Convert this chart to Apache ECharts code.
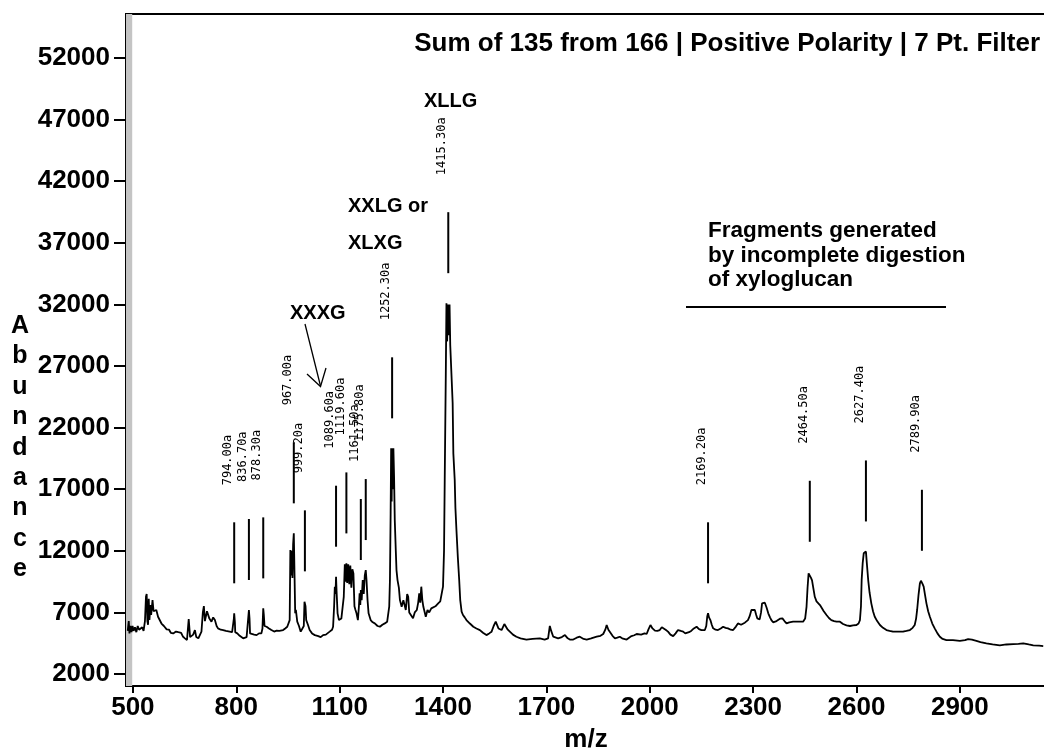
<!DOCTYPE html>
<html>
<head>
<meta charset="utf-8">
<title>MALDI spectrum of xyloglucan oligosaccharides</title>
<script src="https://cdn.jsdelivr.net/npm/echarts@6/dist/echarts.min.js"></script>
<style>
  html, body { margin: 0; padding: 0; background: #fff; }
  #chart { width: 1044px; height: 755px; }
</style>
</head>
<body>
<div id="chart"></div>
<script>
// Summed spectrum trace, [m/z, abundance], split into three ranges
const spectrumLow = [
  [485,5500],[488,6300],[490,5300],[493,5900],[496,5400],[499,5900],[502,5500],[506,5800],
  [510,5400],[514,5900],[518,5600],[522,5500],[527,5800],[531,5500],[535,6300],[538,8300],
  [540,8500],[542,6300],[544,6000],[546,8100],[548,6400],[551,7600],[553,6800],[557,8000],
  [560,7100],[564,7000],[568,7200],[573,6650],[578,6700],[583,6100],[590,5900],[598,5630],
  [605,5600],[610,5350],[617,5300],[625,5450],[632,5400],[640,5350],[645,5050],[651,4900],
  [657,4760],[660,4800],[662,6460],[664,6300],[666,5000],[670,5030],[675,5200],[680,5570],
  [684,5000],[690,4900],[695,5200],[699,5440],[703,7000],[706,7520],[709,6300],[712,6380],
  [715,7100],[718,7200],[722,6500],[728,6250],[733,6600],[738,6380],[743,5900],[747,5710],
  [755,5600],[762,5570],[770,5500],[781,5440],[788,5400],[792,5400],[793,6500],[794,6930],
  [796,6200],[797,5400],[803,5300],[810,5100],[820,4900],[830,5000],[835,5100],[836.7,7200],
  [838.5,6500],[840,5300],[844,5300],[852,5200],[859,5160],[866,5300],[873,5300],[876,5700],
  [878.3,7330],[880,6800],[882,5900],[888,5840],[895,5700],[902,5570],[910,5450],[917,5520],
  [925,5500],[936,5570],[942,5700],[948,5840],[952,6000],[955,6380],[957,12070],[959,10000],
  [961,12000],[963,9800],[965,12500],[967,13420],[969,10200],[971,6930],[973,7200],[977,6250],
  [982,5900],[987,5440],[992,5500],[996,5900],[998,7870],[999.2,7900],[1001,7500],[1003,6380],
  [1008,6000],[1013,5570],[1020,5300],[1028,5160],[1038,5080],[1045,5000],[1052,5160],[1060,5200],
  [1071,5440],[1078,5600],[1081,5840],[1084,7500],[1086,9090],[1088,8500],[1089.6,9900],[1091,8800],
  [1094,6930],[1098,6380],[1101,6380],[1105,6500],[1108,6380],[1112,8270],[1115,10900],[1117,9500],
  [1119.6,10980],[1122,9400],[1125,10900],[1128,9300],[1131,10800],[1134,9000],[1137,10500],[1140,10170],
  [1143,7500],[1146,7200],[1149,6930],[1153,6380],[1156,7500],[1158,8550],[1160,7600],[1161.5,8820],
  [1164,8000],[1167,9630],[1170,8500],[1173,10000],[1175.8,10440],[1178,9630],[1181,8000],[1184,6930],
  [1190,6380],[1196,6200],[1202,6110],[1210,5900],[1217,5840],[1224,6000],[1231,6110],[1238,6250]
];

const spectrumMid = [
  [1241,6380],[1244,7500],[1246,9630],[1248,15000],[1249.5,20320],[1251,16000],[1252.3,20320],[1254,17000],
  [1256,20320],[1258,18000],[1260,14500],[1263,12000],[1265,10440],[1268,9630],[1272,9000],[1275,8000],
  [1280,7460],[1285,8000],[1292,7200],[1296,8500],[1299,8270],[1302,7000],[1306,6930],[1313,6520],
  [1318,7000],[1324,7200],[1328,7800],[1331,8550],[1334,7800],[1337,9090],[1340,8000],[1343,7460],
  [1350,6650],[1355,7200],[1360,7000],[1366,7330],[1371,7330],[1378,7500],[1386,7740],[1392,7900],
  [1396,8000],[1400,9090],[1403,12000],[1405,17750],[1408,26000],[1410,32090],[1412,29000],[1414,32000],
  [1415.3,32100],[1417,29500],[1419,32000],[1421,28700],[1425,28700],[1428,24000],[1430,19910],[1434,17750],
  [1436,15500],[1439,13690],[1443,11500],[1447,9630],[1450,8000],[1454,7060],[1458,6790],[1463,6600],
  [1468,6380],[1478,6100],[1488,5840],[1497,5700],[1507,5570],[1516,5350],[1526,5160],[1534,5300],
  [1541,5440],[1547,5900],[1553,6250],[1557,6100],[1561,5700],[1565,5840],[1570,5570],[1575,5570],
  [1578,6060],[1583,5900],[1588,5600],[1594,5440],[1603,5200],[1613,5030],[1625,4900],[1642,4800],
  [1660,4850],[1681,4900],[1695,4800],[1705,4900],[1710,5900],[1714,5500],[1720,5030],[1734,4900],
  [1745,5000],[1754,5160],[1762,4900],[1768,4800],[1778,4800],[1788,4950],[1797,5030],[1808,4850],
  [1817,4800],[1830,4900],[1846,5030],[1857,5100],[1865,5250],[1871,5600],[1875,5980],[1880,5600],
  [1884,5440],[1892,5100],[1899,4900],[1906,4950],[1913,5030],[1920,4900],[1933,4800],[1940,4950],
  [1947,5080],[1955,5150],[1962,5250],[1975,5200],[1985,5300],[1991,5250],[1996,5600],[2002,5980],
  [2008,5700],[2015,5520],[2022,5500],[2029,5570],[2035,5800],[2039,5840],[2046,5600],[2053,5440],
  [2060,5200],[2068,5080],[2075,5300],[2082,5570],[2090,5500],[2097,5440],[2103,5300],[2107,5250],
  [2114,5400],[2121,5520],[2128,5700],[2136,5840],[2143,5650],[2150,5570],[2160,5570]
];

const spectrumHigh = [
  [2164,5900],[2167,6700],[2169.2,6930],[2172,6600],[2176,6380],[2180,6000],[2184,5710],[2191,5600],
  [2198,5570],[2206,5700],[2213,5840],[2220,5750],[2227,5710],[2235,5600],[2242,5570],[2250,5850],
  [2256,6110],[2265,6000],[2276,6170],[2281,6200],[2285,6380],[2290,6700],[2295,7200],[2300,7150],
  [2305,7200],[2309,6800],[2312,6520],[2319,6440],[2323,7000],[2326,7740],[2330,7800],[2334,7790],
  [2339,7400],[2344,6930],[2349,6600],[2353,6380],[2358,6200],[2363,6110],[2368,6300],[2373,6440],
  [2379,6500],[2385,6520],[2391,6300],[2397,6110],[2405,6200],[2416,6250],[2430,6250],[2445,6250],
  [2451,6500],[2455,7460],[2458,9000],[2461,10170],[2464.5,10300],[2468,9800],[2471,9600],[2474,9090],
  [2479,8270],[2484,7900],[2489,7740],[2494,7600],[2498,7460],[2505,7100],[2513,6790],[2520,6550],
  [2527,6380],[2535,6300],[2542,6250],[2547,6380],[2552,6250],[2561,6060],[2571,5950],[2581,5900],
  [2590,5950],[2600,5980],[2606,6100],[2610,6380],[2613,7500],[2615,9630],[2618,11000],[2621,11800],
  [2624,11900],[2627.4,11950],[2630,11000],[2634,9630],[2638,8600],[2643,7740],[2648,7100],[2653,6650],
  [2660,6300],[2668,5980],[2677,5750],[2687,5570],[2696,5500],[2706,5440],[2720,5440],[2735,5440],
  [2745,5500],[2755,5570],[2763,5750],[2769,5980],[2773,6500],[2776,7200],[2780,8400],[2784,9360],
  [2787,9570],[2789.9,9570],[2792,9300],[2795,9090],[2799,8400],[2803,7740],[2808,7100],[2813,6650],
  [2820,6100],[2827,5710],[2835,5300],[2842,5030],[2850,4850],[2861,4760],[2880,4750],[2900,4700],
  [2915,4750],[2924,4840],[2935,4800],[2948,4700],[2960,4600],[2977,4490],[2995,4400],[3016,4330],
  [3035,4400],[3055,4430],[3070,4450],[3084,4490],[3100,4400],[3113,4330],[3130,4300],[3142,4270]
];

// Labelled peaks: centroid m/z, apex abundance, annotation text
const peakMz = [794.0, 836.7, 878.3, 967.0, 999.2, 1089.6, 1119.6, 1161.5, 1175.8, 1252.3, 1415.3, 2169.2, 2464.5, 2627.4, 2789.9];
const peakAbundance = [6930, 7200, 7330, 13420, 7900, 9900, 10980, 8820, 10440, 20320, 32100, 6930, 10300, 11950, 9570];
const peakLabels = ['794.00a', '836.70a', '878.30a', '967.00a', '999.20a', '1089.60a', '1119.60a', '1161.50a', '1175.80a',
                    '1252.30a', '1415.30a', '2169.20a', '2464.50a', '2627.40a', '2789.90a'];

// Axis tick values
const xTickValues = [500, 800, 1100, 1400, 1700, 2000, 2300, 2600, 2900];
const yTickValues = [2000, 7000, 12000, 17000, 22000, 27000, 32000, 37000, 42000, 47000, 52000];

const titleText = 'Sum of 135 from 166 | Positive Polarity | 7 Pt. Filter';
const fragmentNote = ['Fragments generated', 'by incomplete digestion', 'of xyloglucan'];

const spectrum = spectrumLow.concat(spectrumMid, spectrumHigh);
const peaks = peakMz.map((m, i) => [m, peakAbundance[i]]);

const tickFont = { color: '#000', fontSize: 26, fontWeight: 'bold', fontFamily: '"Liberation Sans", Arial, sans-serif' };
const noteFont = '"Liberation Sans", Arial, sans-serif';
const plainNumber = v => String(v);

const chart = echarts.init(document.getElementById('chart'), null, { renderer: 'canvas' });

chart.setOption({
  animation: false,
  backgroundColor: '#fff',
  grid: {
    left: 126, right: -2, top: 14, bottom: 69,
    show: true, borderColor: '#000', borderWidth: 2, backgroundColor: 'transparent',
    outerBoundsMode: 'none'
  },
  xAxis: {
    type: 'value', min: 480, max: 3150,
    axisLine: { show: true, onZero: false, lineStyle: { color: '#000', width: 2 } },
    axisTick: { show: true, customValues: xTickValues, length: 7, lineStyle: { color: '#000', width: 2 } },
    axisLabel: Object.assign({ customValues: xTickValues, margin: 9, formatter: plainNumber }, tickFont),
    splitLine: { show: false },
    name: 'm/z', nameLocation: 'middle', nameGap: 54, nameMoveOverlap: false,
    nameTextStyle: Object.assign({ verticalAlign: 'middle' }, tickFont)
  },
  yAxis: {
    type: 'value', min: 1030, max: 55570,
    axisLine: { show: true, onZero: false, lineStyle: { color: '#000', width: 2 } },
    axisTick: { show: true, customValues: yTickValues, length: 12, lineStyle: { color: '#000', width: 2 } },
    axisLabel: Object.assign({ customValues: yTickValues, margin: 16, formatter: plainNumber }, tickFont),
    splitLine: { show: false }
  },
  series: [
    {
      type: 'line',
      data: spectrum,
      showSymbol: false,
      symbol: 'none',
      sampling: 'none',
      lineStyle: { color: '#000', width: 1.8 },
      z: 3,
      markArea: {
        silent: true,
        itemStyle: { color: '#c4c4c4' },
        data: [[{ xAxis: 480 }, { xAxis: 498 }]]
      }
    },
    {
      // peak tags: short stroke above each apex with its rotated m/z text
      type: 'custom',
      data: peaks,
      encode: { x: 0, y: 1 },
      silent: true,
      z: 4,
      renderItem: function (params, api) {
        const p = api.coord([api.value(0), api.value(1)]);
        return {
          type: 'group',
          children: [
            { type: 'line', shape: { x1: p[0], y1: p[1] - 30, x2: p[0], y2: p[1] - 91 },
              style: { stroke: '#000', lineWidth: 2 } },
            { type: 'text', x: p[0] - 6, y: p[1] - 128, rotation: Math.PI / 2,
              style: { text: peakLabels[params.dataIndex], x: 0, y: 0, align: 'left', verticalAlign: 'middle',
                       font: '12px "DejaVu Sans Mono", monospace', fill: '#000' } }
          ]
        };
      }
    }
  ],
  graphic: [
    { type: 'text', x: 1040, y: 44, z: 10,
      style: { text: titleText, align: 'right', verticalAlign: 'middle', font: 'bold 26px ' + noteFont, fill: '#000' } },
    { type: 'text', x: 20, y: 311, z: 10,
      style: { text: 'A\nb\nu\nn\nd\na\nn\nc\ne', align: 'center', verticalAlign: 'top',
               font: 'bold 25px ' + noteFont, lineHeight: 30.4, fill: '#000' } },
    { type: 'text', x: 424, y: 101, z: 10,
      style: { text: 'XLLG', align: 'left', verticalAlign: 'middle', font: 'bold 20px ' + noteFont, fill: '#000' } },
    { type: 'text', x: 348, y: 206, z: 10,
      style: { text: 'XXLG or', align: 'left', verticalAlign: 'middle', font: 'bold 20px ' + noteFont, fill: '#000' } },
    { type: 'text', x: 348, y: 243, z: 10,
      style: { text: 'XLXG', align: 'left', verticalAlign: 'middle', font: 'bold 20px ' + noteFont, fill: '#000' } },
    { type: 'text', x: 290, y: 313, z: 10,
      style: { text: 'XXXG', align: 'left', verticalAlign: 'middle', font: 'bold 20px ' + noteFont, fill: '#000' } },
    { type: 'polyline', z: 10, shape: { points: [[305, 324], [320.5, 386]] },
      style: { stroke: '#000', lineWidth: 1.3, fill: null } },
    { type: 'polyline', z: 10, shape: { points: [[307, 374], [320.5, 386.5], [326, 368]] },
      style: { stroke: '#000', lineWidth: 1.3, fill: null } },
    { type: 'text', x: 708, y: 231, z: 10,
      style: { text: fragmentNote[0], align: 'left', verticalAlign: 'middle', font: 'bold 22.5px ' + noteFont, fill: '#000' } },
    { type: 'text', x: 708, y: 255.5, z: 10,
      style: { text: fragmentNote[1], align: 'left', verticalAlign: 'middle', font: 'bold 22.5px ' + noteFont, fill: '#000' } },
    { type: 'text', x: 708, y: 280, z: 10,
      style: { text: fragmentNote[2], align: 'left', verticalAlign: 'middle', font: 'bold 22.5px ' + noteFont, fill: '#000' } },
    { type: 'line', z: 10, shape: { x1: 686, y1: 307, x2: 946, y2: 307 },
      style: { stroke: '#000', lineWidth: 2 } }
  ]
});
</script>
</body>
</html>
